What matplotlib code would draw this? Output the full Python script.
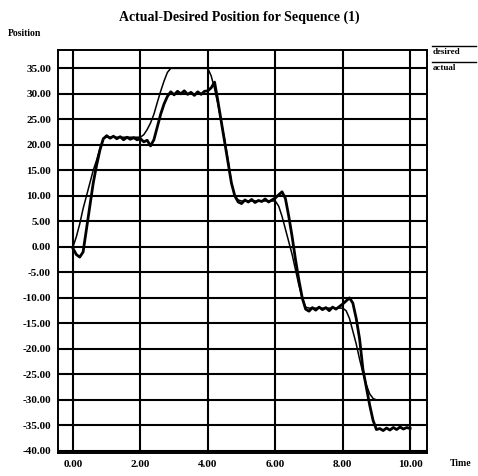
import numpy as np
import matplotlib
matplotlib.use("Agg")
import matplotlib.pyplot as plt
from matplotlib.lines import Line2D

plt.rcParams['font.family'] = ['Liberation Serif', 'DejaVu Serif']
plt.rcParams['font.weight'] = 'bold'

# sample times, 0.1 s apart
t = np.round(np.arange(0, 10.01, 0.1), 2)

desired = [
    0.0, 2.0, 4.5, 7.5, 10.0, 12.5, 15.0, 17.0, 19.3, 21.3,
    21.5, 21.5, 21.5, 21.5, 21.5, 21.5, 21.5, 21.5, 21.5, 21.5,
    21.5, 22.0, 23.0, 24.3, 26.0, 28.3, 30.5, 32.5, 34.2, 35.0,
    35.0, 35.0, 35.0, 35.0, 35.0, 35.0, 35.0, 35.0, 35.0, 35.0,
    35.0, 33.5, 31.0, 28.0, 24.5, 21.0, 17.0, 12.5, 10.0, 9.2,
    9.0, 9.0, 9.0, 9.0, 9.0, 9.0, 9.0, 9.0, 9.0, 9.0,
    9.0, 8.0, 6.0, 3.5, 1.0, -1.5, -4.5, -7.5, -10.0, -11.8,
    -12.0, -12.0, -12.0, -12.0, -12.0, -12.0, -12.0, -12.0, -12.0, -12.0,
    -12.0, -12.5, -14.0, -16.5, -19.0, -22.0, -24.7, -27.0, -28.8, -29.7,
    -30.0, -30.0, -30.0, -30.0, -30.0, -30.0, -30.0, -30.0, -30.0, -30.0,
    -30.0,
]

actual = [
    -0.3, -1.5, -2.0, -1.0, 3.5, 8.0, 12.5, 16.0, 19.0, 21.2,
    21.8, 21.3, 21.7, 21.2, 21.6, 21.0, 21.5, 21.1, 21.4, 21.0,
    21.2, 20.6, 20.9, 19.8, 21.0, 23.5, 26.0, 28.0, 29.5, 30.4,
    29.8, 30.5, 30.0, 30.6, 29.9, 30.3, 29.7, 30.4, 29.9, 30.5,
    30.6, 31.2, 32.3, 28.5, 24.5, 20.5, 16.5, 12.5, 10.0, 8.8,
    8.5, 9.2, 8.8, 9.3, 8.7, 9.1, 8.9, 9.4, 8.8, 9.2,
    9.6, 10.2, 10.8, 9.5, 6.0, 2.0, -2.5, -6.5, -10.0, -12.2,
    -12.6, -11.9, -12.4, -11.8, -12.3, -11.9, -12.5, -11.8, -12.2, -11.7,
    -11.2, -10.6, -10.0, -11.0, -14.0, -18.0, -24.0, -27.5, -31.0, -34.0,
    -35.8, -35.6, -36.0, -35.5, -35.9, -35.4, -35.8, -35.3, -35.7, -35.4,
    -35.6,
]

xticks = [0, 2, 4, 6, 8, 10]
yticks = list(range(-40, 36, 5))

fig = plt.figure(figsize=(4.78, 4.76), dpi=100)
ax = fig.add_axes([0.1213, 0.0483, 0.772, 0.8467])

ax.plot(t, desired, color='black', lw=1.1)
ax.plot(t, actual, color='black', lw=2.0)

ax.set_xlim(-0.445, 10.5)
ax.set_ylim(-40.4, 38.6)
ax.set_xticks(xticks)
ax.set_yticks(yticks)
ax.set_xticklabels(['%.2f' % v for v in xticks])
ax.set_yticklabels(['%.2f' % v for v in yticks])
ax.tick_params(length=0, labelsize=8, pad=5)
for lab in ax.get_xticklabels() + ax.get_yticklabels():
    lab.set_fontweight('bold')
ax.grid(True, color='black', lw=1.5)
ax.set_axisbelow(True)
for s in ax.spines.values():
    s.set_linewidth(1.4)

fig.text(0.5, 0.963, 'Actual-Desired Position for Sequence (1)',
         ha='center', va='center', fontsize=10, fontweight='bold')
fig.text(0.017, 0.93, 'Position', ha='left', va='center',
         fontsize=7, fontweight='bold')
fig.text(0.94, 0.027, 'Time', ha='left', va='center',
         fontsize=7, fontweight='bold')

# legend: a line above each label, outside the right edge
for y_line, label in [(1 - 46 / 476, 'desired'), (1 - 62 / 476, 'actual')]:
    fig.add_artist(Line2D([0.903, 0.995], [y_line, y_line],
                          color='black', lw=1.0, transform=fig.transFigure))
    fig.text(0.905, y_line - 0.013, label, ha='left', va='center',
             fontsize=6.5, fontweight='bold')

fig.savefig('out.png', dpi=100)
